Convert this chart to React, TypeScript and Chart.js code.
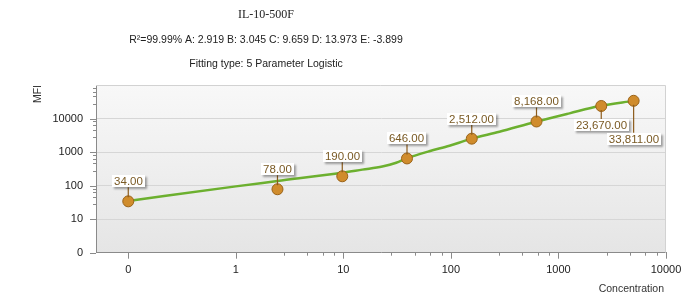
import React, { useEffect, useRef } from 'react';
import { Chart, registerables } from 'chart.js';

Chart.register(...registerables);

// ---- texts ----
const TITLE = 'IL-10-500F';
const FIT_TEXT = 'R²=99.99% A: 2.919 B: 3.045 C: 9.659 D: 13.973 E: -3.899';
const TYPE_TEXT = 'Fitting type: 5 Parameter Logistic';
const X_TITLE = 'Concentration';
const Y_TITLE = 'MFI';

// ---- standards (measured points) ----
const standardConc = [0, 2.44, 9.77, 39.06, 156.25, 625, 2500, 5000];
const standardMFI = [34, 78, 190, 646, 2512, 8168, 23670, 33811];
const labelSide = ['top', 'top', 'top', 'top', 'top', 'top', 'bottom', 'bottom'];
const labelLeader = [14, 14, 14, 14, 14, 14, 13, 32];

// ---- fitted curve ----
const curveConc = [0, 1, 2.44, 10, 15, 23, 31, 39, 63, 97, 149, 283, 621, 1268, 2415, 5000];
const curveMFI = [35, 95, 137, 245, 300, 370, 480, 655, 1060, 1546, 2399, 4043, 8035, 14290, 23580, 33600];

// ---- axis ticks ----
const xMajorTicks = [0, 1, 10, 100, 1000, 10000];
const xMinorDecades = [1, 10, 100, 1000];
const yMajorTicks = [0, 10, 100, 1000, 10000];
const yMinorDecades = [10, 100, 1000, 10000];
const minorSteps = [2.8, 4.6, 6.4, 8.2];

// axis transform: "0" sits one decade below the first decade
const tx = (c: number) => (c > 0 ? Math.log10(c) : -1);
const ty = (v: number) => (v > 0 ? Math.log10(v) : 0);
const isMajor = (v: number) => Math.abs(v - Math.round(v)) < 1e-9;

const SANS = '"Liberation Sans", Arial, sans-serif';
const SERIF = '"Liberation Serif", "Times New Roman", serif';

const buildTicks = (major: number[], minorDecades: number[], t: (n: number) => number) => {
  const vals: number[] = major.map(t);
  minorDecades.forEach((d) => minorSteps.forEach((m) => vals.push(Math.log10(m * d))));
  return vals.sort((a, b) => a - b).map((value) => ({ value }));
};

const majorLabel = (v: number, zeroAt: number) => {
  if (!isMajor(v)) return '';
  const r = Math.round(v);
  if (r === zeroAt) return '0';
  return String(Math.pow(10, r));
};

const decor = {
  id: 'decor',
  beforeDraw(chart: any) {
    const { ctx, chartArea: a } = chart;
    ctx.save();
    ctx.fillStyle = '#ffffff';
    ctx.fillRect(0, 0, chart.width, chart.height);
    const g = ctx.createLinearGradient(0, a.top, 0, a.bottom);
    g.addColorStop(0, '#f8f8f8');
    g.addColorStop(1, '#e5e5e5');
    ctx.fillStyle = g;
    ctx.fillRect(a.left, a.top, a.right - a.left, a.bottom - a.top);
    ctx.restore();
  },
  afterDraw(chart: any) {
    const { ctx, chartArea: a } = chart;
    const xs = chart.scales.x;
    const ys = chart.scales.y;
    ctx.save();

    // light frame top / right
    ctx.strokeStyle = '#d2d2d2';
    ctx.lineWidth = 1;
    ctx.beginPath();
    ctx.moveTo(a.left, a.top + 0.5);
    ctx.lineTo(a.right - 0.5, a.top + 0.5);
    ctx.lineTo(a.right - 0.5, a.bottom);
    ctx.stroke();

    // tick marks
    ctx.strokeStyle = '#8a8a8a';
    ctx.beginPath();
    xs.ticks.forEach((t: any) => {
      const px = Math.round(xs.getPixelForValue(t.value)) + 0.5;
      const len = isMajor(t.value) ? 6 : 3;
      ctx.moveTo(px, a.bottom);
      ctx.lineTo(px, a.bottom + len);
    });
    ys.ticks.forEach((t: any) => {
      const py = Math.round(ys.getPixelForValue(t.value)) + 0.5;
      const len = isMajor(t.value) ? 6 : 3;
      ctx.moveTo(a.left, py);
      ctx.lineTo(a.left - len, py);
    });
    ctx.stroke();

    // titles
    ctx.fillStyle = '#222222';
    ctx.textAlign = 'center';
    ctx.textBaseline = 'middle';
    ctx.font = `12px ${SERIF}`;
    ctx.fillText(TITLE, 266, 15);
    ctx.font = `10.5px ${SANS}`;
    ctx.fillText(FIT_TEXT, 266, 40);
    ctx.fillText(TYPE_TEXT, 266, 64);

    // axis titles
    ctx.fillStyle = '#333333';
    ctx.font = `10.5px ${SANS}`;
    ctx.textAlign = 'right';
    ctx.fillText(X_TITLE, 664, 289);
    ctx.save();
    ctx.translate(38, 85);
    ctx.rotate(-Math.PI / 2);
    ctx.textAlign = 'right';
    ctx.fillText(Y_TITLE, 0, 0);
    ctx.restore();

    // data labels
    const meta = chart.getDatasetMeta(1);
    ctx.font = `11.5px ${SANS}`;
    meta.data.forEach((el: any, i: number) => {
      const { x, y } = el.getProps(['x', 'y'], true);
      const text = standardMFI[i].toLocaleString('en-US', {
        minimumFractionDigits: 2,
        maximumFractionDigits: 2,
      });
      const w = Math.round(ctx.measureText(text).width) + 4;
      const h = 12;
      const top = labelSide[i] === 'top';
      const boxTop = top ? y - labelLeader[i] - h : y + labelLeader[i];
      const boxLeft = Math.round(x - w / 2);
      // leader
      ctx.strokeStyle = '#8d5c1c';
      ctx.lineWidth = 1.2;
      ctx.beginPath();
      if (top) {
        ctx.moveTo(x, y - 4);
        ctx.lineTo(x, boxTop + h);
      } else {
        ctx.moveTo(x, y + 4);
        ctx.lineTo(x, boxTop);
      }
      ctx.stroke();
      // box
      ctx.save();
      ctx.shadowColor = 'rgba(0,0,0,0.35)';
      ctx.shadowOffsetX = 2;
      ctx.shadowOffsetY = 2;
      ctx.shadowBlur = 2;
      ctx.fillStyle = '#ffffff';
      ctx.fillRect(boxLeft, Math.round(boxTop), w, h);
      ctx.restore();
      ctx.fillStyle = '#7a5a24';
      ctx.textAlign = 'center';
      ctx.textBaseline = 'middle';
      ctx.fillText(text, boxLeft + w / 2, Math.round(boxTop) + h / 2 + 0.5);
    });

    ctx.restore();
  },
};

export default function App() {
  const ref = useRef<HTMLCanvasElement | null>(null);

  useEffect(() => {
    document.body.style.margin = '0';
    document.body.style.overflow = 'hidden';
    const canvas = ref.current;
    if (!canvas) return;

    const curveData = curveConc.map((c, i) => ({ x: tx(c), y: ty(curveMFI[i]) }));
    const pointData = standardConc.map((c, i) => ({ x: tx(c), y: ty(standardMFI[i]) }));

    const chart = new Chart(canvas, {
      type: 'scatter',
      data: {
        datasets: [
          {
            data: curveData,
            showLine: true,
            borderColor: '#6cb02f',
            borderWidth: 2.5,
            pointRadius: 0,
            cubicInterpolationMode: 'monotone',
            order: 2,
          } as any,
          {
            data: pointData,
            pointRadius: 5.5,
            backgroundColor: '#d08c2c',
            borderColor: '#9a6318',
            borderWidth: 1,
            order: 1,
          },
        ],
      },
      options: {
        animation: false,
        responsive: false,
        events: [],
        layout: { padding: { top: 85, right: 31, left: 0, bottom: 0 } },
        plugins: { legend: { display: false }, tooltip: { enabled: false } },
        scales: {
          x: {
            type: 'linear',
            min: -1.3,
            max: 4,
            afterBuildTicks: (s: any) => {
              s.ticks = buildTicks(xMajorTicks, xMinorDecades, tx);
            },
            afterFit: (s: any) => {
              s.height = 49.3;
            },
            ticks: {
              autoSkip: false,
              maxRotation: 0,
              padding: 11,
              color: '#222',
              font: { family: SANS, size: 11 },
              callback: (v: any) => majorLabel(Number(v), -1),
            },
            grid: { drawOnChartArea: false, drawTicks: false },
            border: { color: '#8a8a8a', width: 1 },
          },
          y: {
            type: 'linear',
            min: 0,
            max: 5,
            afterBuildTicks: (s: any) => {
              s.ticks = buildTicks(yMajorTicks, yMinorDecades, ty);
            },
            afterFit: (s: any) => {
              s.width = 96;
            },
            ticks: {
              autoSkip: false,
              padding: 13,
              color: '#222',
              font: { family: SANS, size: 11 },
              callback: (v: any) => majorLabel(Number(v), 0),
            },
            grid: {
              drawTicks: false,
              color: (c: any) =>
                c.tick && isMajor(c.tick.value) && c.tick.value > 0 ? '#d6d6d6' : 'rgba(0,0,0,0)',
            },
            border: { color: '#8a8a8a', width: 1 },
          },
        },
      },
      plugins: [decor],
    });

    return () => chart.destroy();
  }, []);

  return (
    <canvas
      ref={ref}
      width={697}
      height={302}
      style={{ display: 'block', width: '697px', height: '302px' }}
    />
  );
}
